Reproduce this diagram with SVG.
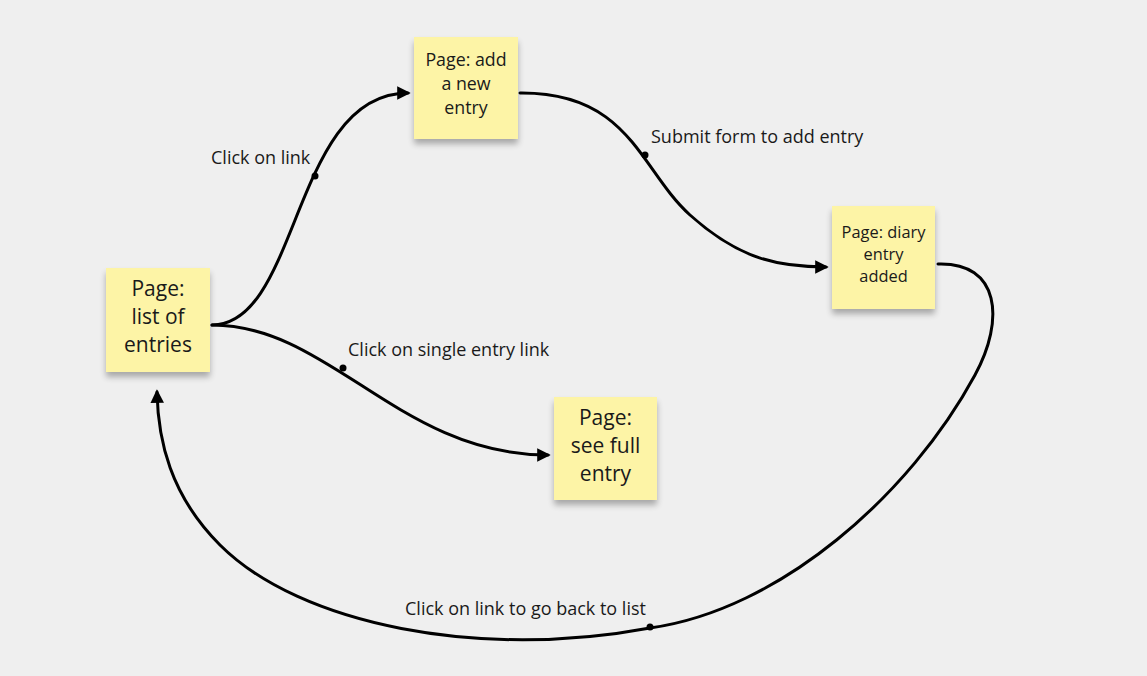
<svg xmlns="http://www.w3.org/2000/svg" width="1147" height="676" viewBox="0 0 1147 676">
<style>
.note{fill:#fdf4a6;}
.t{font-family:"Open Sans","Noto Sans",sans-serif;fill:#1a1a1a;text-anchor:middle;}
.lbl{font-family:"Open Sans","Noto Sans",sans-serif;font-size:18px;fill:#1a1a1a;}
.c{fill:none;stroke:#000;stroke-width:3;stroke-linecap:round;}
.dot{fill:#000;}
</style>
<defs>
<filter id="sh" x="-20%" y="-20%" width="140%" height="150%">
<feGaussianBlur in="SourceAlpha" stdDeviation="3"/>
<feOffset dx="0" dy="5" result="b"/>
<feComponentTransfer><feFuncA type="linear" slope="0.3"/></feComponentTransfer>
<feMerge><feMergeNode/><feMergeNode in="SourceGraphic"/></feMerge>
</filter>
<marker id="ah" viewBox="0 0 10 10" refX="8" refY="5" markerWidth="4.5" markerHeight="4.5" orient="auto" markerUnits="strokeWidth">
<path d="M0,0 L10,5 L0,10 z" fill="#000"/>
</marker>
</defs>
<rect width="1147" height="676" fill="#efefef"/>
<g id="connectors">
<path class="c" d="M212,325 C300,325 292,93 408,93" marker-end="url(#ah)"/>
<path class="c" d="M520,93 C630,92 640,170 690,215 C740,260 780,267 826,267" marker-end="url(#ah)"/>
<path class="c" d="M212,325 C330,325 400,455 548,455" marker-end="url(#ah)"/>
<path class="c" d="M938,264 C1000,262 1005,320 975,375 C910,495 780,610 650,628 C480,660 300,625 220,545 C170,495 158,440 157,392" marker-end="url(#ah)"/>
<circle class="dot" cx="315" cy="176" r="3.5"/>
<circle class="dot" cx="645" cy="155" r="3.5"/>
<circle class="dot" cx="343" cy="368" r="3.5"/>
<circle class="dot" cx="650" cy="627" r="3.5"/>
<text class="lbl" x="211" y="164">Click on link</text>
<text class="lbl" x="651" y="143">Submit form to add entry</text>
<text class="lbl" x="348" y="356">Click on single entry link</text>
<text class="lbl" x="405" y="615">Click on link to go back to list</text>
</g>
<g id="n1">
<rect class="note" x="106" y="268" width="104" height="104" filter="url(#sh)"/>
<text class="t" font-size="21"><tspan x="158" y="296">Page:</tspan><tspan x="158" y="324">list of</tspan><tspan x="158" y="352">entries</tspan></text>
</g>
<g id="n2">
<rect class="note" x="414" y="37" width="104" height="102" filter="url(#sh)"/>
<text class="t" font-size="17.8"><tspan x="466" y="66">Page: add</tspan><tspan x="466" y="90">a new</tspan><tspan x="466" y="114">entry</tspan></text>
</g>
<g id="n3">
<rect class="note" x="832" y="206" width="103" height="103" filter="url(#sh)"/>
<text class="t" font-size="16.4"><tspan x="883.5" y="238">Page: diary</tspan><tspan x="883.5" y="260">entry</tspan><tspan x="883.5" y="282">added</tspan></text>
</g>
<g id="n4">
<rect class="note" x="554" y="397" width="103" height="103" filter="url(#sh)"/>
<text class="t" font-size="21"><tspan x="605.5" y="425">Page:</tspan><tspan x="605.5" y="453">see full</tspan><tspan x="605.5" y="481">entry</tspan></text>
</g>
</svg>
